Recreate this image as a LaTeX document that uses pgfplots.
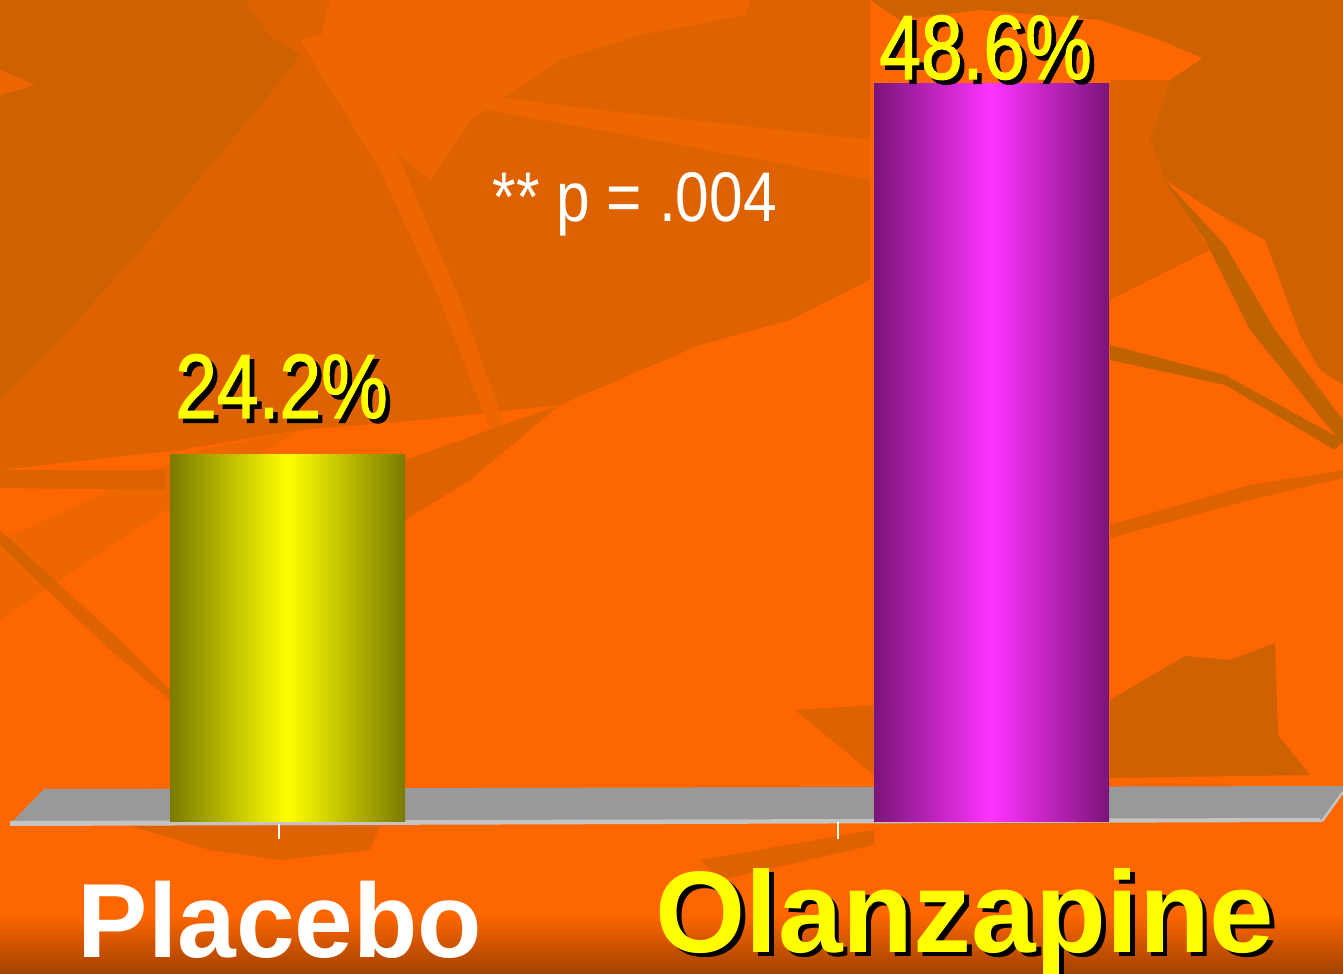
\documentclass[border=0pt]{standalone}
\usepackage{pgfplots}
\pgfplotsset{compat=1.18}
\usepackage{fontspec}
\setmainfont{Liberation Sans}
\newfontfamily\narrowA[FakeStretch=0.82, FakeBold=1.2]{Liberation Sans}
\newfontfamily\narrowB[FakeStretch=0.86]{Liberation Sans}
\definecolor{bgorange}{RGB}{254,102,0}
\definecolor{bglight}{RGB}{238,102,0}
\definecolor{bgmid}{RGB}{222,99,0}
\definecolor{bgdark}{RGB}{206,97,0}
\definecolor{bgstem}{RGB}{192,98,0}
\definecolor{bgbottom}{RGB}{160,66,0}
\definecolor{olivedark}{RGB}{122,122,0}
\definecolor{ybright}{RGB}{255,255,0}
\definecolor{purpdark}{RGB}{122,20,122}
\definecolor{magbright}{RGB}{255,51,255}
\definecolor{floorgray}{RGB}{153,153,153}
\definecolor{flooredge}{RGB}{196,196,196}
\newcommand\shadowed[2]{\makebox[0pt][l]{\hspace{#1}\raisebox{-#1}{\textcolor{black}{#2}}}#2}
\begin{document}
\begin{tikzpicture}
\path[use as bounding box] (0,0) rectangle (134.3mm,97.4mm);
\begin{scope}[x=0.1mm,y=-0.1mm,shift={(0,97.4mm)}]
  % background
  \fill[bgorange] (0,0) rectangle (1343,974);
  \fill[bgmid] (0,0) -- (870,0) -- (870,280) -- (790,320) -- (700,345) -- (560,405) -- (420,420) -- (300,430) -- (180,450) -- (0,470) -- cycle;
  \fill[bgdark] (0,0) -- (245,0) -- (268,35) -- (300,55) -- (265,100) -- (215,160) -- (140,250) -- (60,340) -- (0,400) -- cycle;
  \fill[bglight] (0,70) -- (35,85) -- (0,95) -- cycle;
  \fill[bglight] (330,0) -- (750,0) -- (745,15) -- (640,35) -- (560,60) -- (470,120) -- (430,180) -- (380,140) -- (320,40) -- cycle;
  \fill[bglight] (300,40) -- (320,35) -- (400,160) -- (460,300) -- (510,440) -- (490,430) -- (440,300) -- (380,170) -- cycle;
  \fill[bglight] (330,30) -- (440,90) -- (600,110) -- (870,140) -- (870,180) -- (600,130) -- (430,100) -- cycle;
  \fill[bglight] (0,540) -- (200,450) -- (300,430) -- (150,520) -- (0,620) -- cycle;
  \fill[bgdark] (870,0) -- (1343,0) -- (1343,60) -- (1230,70) -- (1160,40) -- (1100,20) -- (980,10) -- (900,20) -- cycle;
  \fill[bgdark] (1170,80) -- (1290,0) -- (1343,20) -- (1343,385) -- (1320,370) -- (1300,335) -- (1265,240) -- (1220,215) -- (1165,180) -- (1150,140) -- cycle;
  \fill[bgmid] (1110,80) -- (1170,80) -- (1150,140) -- (1165,180) -- (1210,250) -- (1110,300) -- cycle;
  \fill[bgstem] (1160,175) -- (1225,245) -- (1275,330) -- (1343,420) -- (1343,445) -- (1250,330) -- (1205,240) -- cycle;
  \fill[bgstem] (1110,345) -- (1225,375) -- (1343,440) -- (1335,450) -- (1225,385) -- (1110,360) -- cycle;
  \fill[bgmid] (1110,525) -- (1250,485) -- (1343,470) -- (1343,478) -- (1250,500) -- (1110,538) -- cycle;
  \fill[bgdark] (1110,700) -- (1185,656) -- (1230,660) -- (1275,643) -- (1278,735) -- (1310,775) -- (1110,778) -- cycle;
  \fill[bgstem, opacity=0.5] (0,530) -- (120,640) -- (170,690) -- (170,700) -- (110,650) -- (0,545) -- cycle;
  \fill[bgmid] (0,470) -- (165,470) -- (165,490) -- (0,488) -- cycle;
  \fill[bgmid] (405,460) -- (560,405) -- (470,480) -- (405,520) -- cycle;
  \fill[bgmid] (795,710) -- (874,705) -- (874,775) -- cycle;
  \fill[bgmid] (130,826) -- (380,826) -- (370,850) -- (280,860) -- (210,850) -- cycle;
  \fill[bgmid] (700,860) -- (874,830) -- (874,845) -- (720,880) -- cycle;
  \shade[top color=bgorange, bottom color=bgbottom] (0,915) rectangle (1343,974);
  % floor
  \fill[floorgray] (10,824) -- (44,789) -- (1343,786) -- (1343,790) -- (1322,821) -- cycle;
  \fill[flooredge] (10,821) -- (1320,818) -- (1322,822) -- (10,826) -- cycle;
  \draw[flooredge, line width=0.25mm] (1322,821) -- (1343,792);
  % tick marks
  \draw[white, line width=0.2mm] (279,824) -- (279,839);
  \draw[white, line width=0.2mm] (838,822) -- (838,839);
\end{scope}
\begin{axis}[at={(0,0)}, anchor=south west, scale only axis,
  width=134.3mm, height=97.4mm,
  xmin=-0.40838, xmax=1.49929, ymin=-10, ymax=54.0789,
  hide axis, clip=false]
\addplot[ybar, bar width=23.5mm, bar shift=0pt, draw=none,
  left color=olivedark, right color=olivedark, middle color=ybright]
  coordinates {(0,24.2)};
\addplot[ybar, bar width=23.5mm, bar shift=0pt, draw=none,
  left color=purpdark, right color=purpdark, middle color=magbright]
  coordinates {(1,48.6)};
\end{axis}
\begin{scope}[x=0.1mm,y=-0.1mm,shift={(0,97.4mm)}]
  \node[anchor=base, inner sep=0, text=ybright, font=\narrowA\fontsize{26}{30}\selectfont]
    at (281.5,418) {\shadowed{1.3pt}{24.2\%}};
  \node[anchor=base, inner sep=0, text=ybright, font=\narrowA\fontsize{26}{30}\selectfont]
    at (985.5,79) {\shadowed{1.3pt}{48.6\%}};
  \node[anchor=base west, inner sep=0, text=white, font=\narrowB\fontsize{20}{24}\selectfont]
    at (492,222) {** p = .004};
  \node[anchor=base, inner sep=0, text=white, font=\fontsize{30}{36}\selectfont\bfseries]
    at (280,957) {Placebo};
  \node[anchor=base, inner sep=0, text=ybright, font=\fontsize{33}{40}\selectfont\bfseries]
    at (965,952) {\shadowed{1.3pt}{Olanzapine}};
\end{scope}
\end{tikzpicture}
\end{document}
